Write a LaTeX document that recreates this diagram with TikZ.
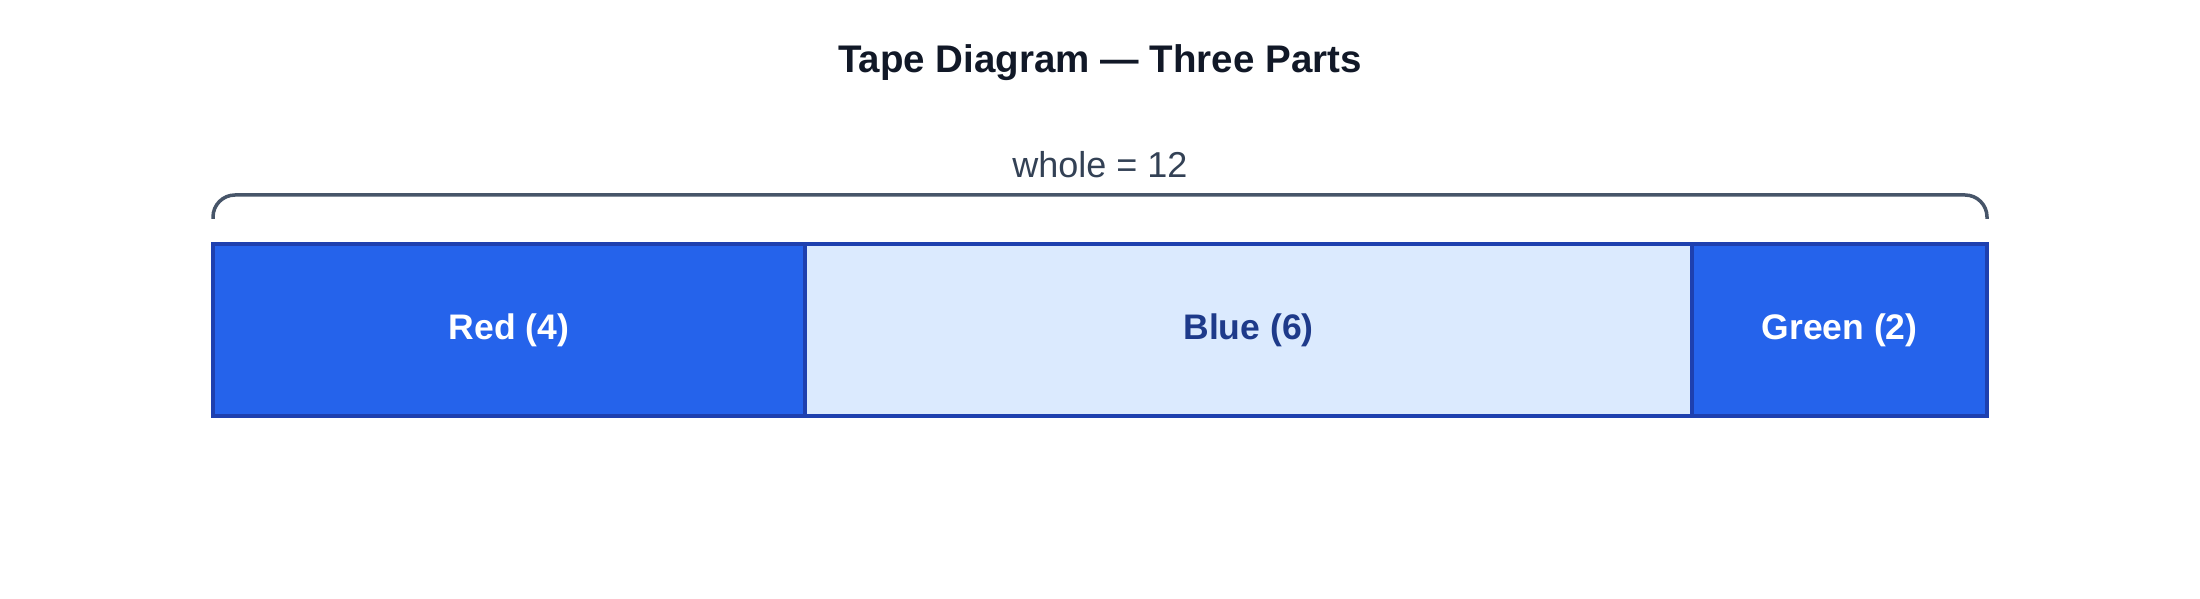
\documentclass[tikz,border=0pt]{standalone}
\usepackage{fontspec}
\setmainfont{Liberation Sans}
\usetikzlibrary{positioning}
\definecolor{partfill}{HTML}{2563EB}
\definecolor{partline}{HTML}{1E40AF}
\definecolor{lightfill}{HTML}{DBEAFE}
\definecolor{darktext}{HTML}{1E3A8A}
\definecolor{titletext}{HTML}{111827}
\definecolor{wholetext}{HTML}{334155}
\definecolor{braceline}{HTML}{475569}
\begin{document}
\begin{tikzpicture}[x=1pt, y=1pt,% styles used in image code
part/.style = {draw=partline, line width=4pt,
               minimum height=172pt, inner sep=0pt, outer sep=0pt,
               font=\fontsize{35.5}{40}\selectfont\bfseries},
dark/.style = {part, fill=partfill, text=white},
light/.style = {part, fill=lightfill, text=darktext},
                    ]
	% canvas
	\useasboundingbox (0,0) rectangle (2200,599);
	\node[font=\fontsize{38.5}{44}\selectfont\bfseries, text=titletext] (title) at (1100,536) {Tape Diagram — Three Parts};

	% the three parts of the tape
	\node[dark, minimum width=592pt, anchor=west] (red) at (213,269) {Red (4)};
	\node[light, minimum width=887pt, right=0pt of red] (blue) {Blue (6)};
	\node[dark, minimum width=295pt, right=0pt of blue] (green) {Green (2)};

	% brace over the whole
	\coordinate (bl) at ([yshift=25pt]red.north west);
	\coordinate (br) at ([yshift=25pt]green.north east);
	\draw[braceline, line width=3.5pt, rounded corners=22pt]
		(bl) -- ([yshift=24pt]bl) -- ([yshift=24pt]br) -- (br);
	\node[font=\fontsize{36}{40}\selectfont, text=wholetext] (whole) at (1100,434) {whole = 12};
\end{tikzpicture}
\end{document}
